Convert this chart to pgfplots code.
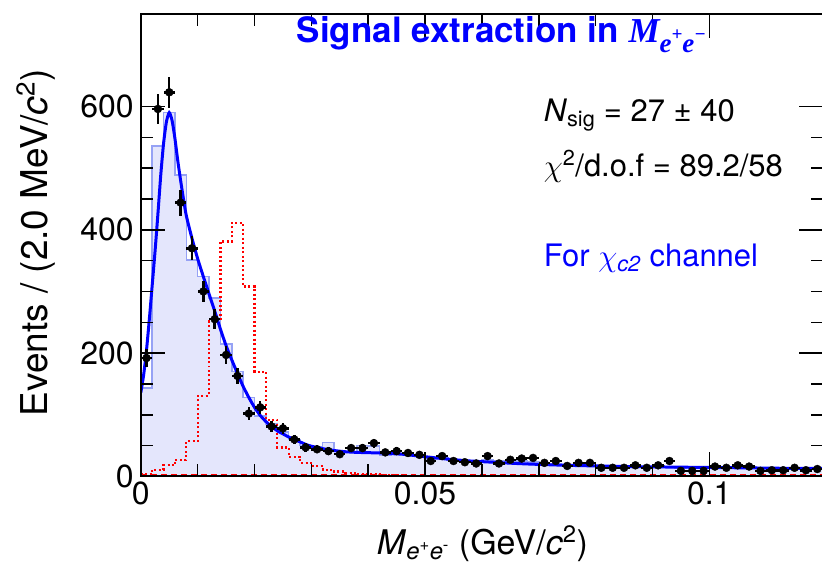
\RequirePackage{fix-cm}
\documentclass[border=0pt]{standalone}
\usepackage{pgfplots}
\pgfplotsset{compat=1.18}
\usepackage{fontspec}
\setmainfont{TeX Gyre Heros}
\newfontfamily\titleserif{Liberation Serif}
\definecolor{histfill}{RGB}{228,230,252}
\definecolor{histline}{RGB}{150,162,245}
\begin{document}
\begin{tikzpicture}
\begin{axis}[
  at={(0pt,0pt)}, anchor=south west,
  scale only axis, width=683pt, height=463pt,
  xmin=0, xmax=0.12, ymin=0, ymax=750,
  axis line style={line width=2pt},
  xtick={0,0.05,0.1}, xticklabels={0,0.05,0.1},
  ytick={0,200,400,600}, yticklabels={0,200,400,600},
  minor x tick num=4, minor y tick num=3,
  major tick length=24pt, minor tick length=12pt,
  every tick/.style={black, line width=1.5pt},
  tick label style={font=\fontsize{32}{38}\selectfont},
  xticklabel style={inner sep=2pt, yshift=-3pt},
  yticklabel style={inner sep=2pt, xshift=-5pt},
  scaled x ticks=false, scaled y ticks=false,
  axis on top,
]
% MC histogram (filled)
\addplot[draw=histline, line width=1.5pt, fill=histfill, const plot mark left] coordinates {
(0,143) (0.002,536) (0.004,590) (0.006,489) (0.008,351) (0.010,324) (0.012,289) (0.014,215) (0.016,170) (0.018,128)
(0.020,98) (0.022,85) (0.024,72) (0.026,60) (0.028,50) (0.030,48) (0.032,55) (0.034,42) (0.036,40) (0.038,50)
(0.040,49) (0.042,34) (0.044,36) (0.046,38) (0.048,33) (0.050,28) (0.052,31) (0.054,27) (0.056,26) (0.058,24)
(0.060,27) (0.062,26) (0.064,24) (0.066,25) (0.068,23) (0.070,19) (0.072,21) (0.074,18) (0.076,19) (0.078,17)
(0.080,18) (0.082,16) (0.084,17) (0.086,15) (0.088,16) (0.090,17) (0.092,15) (0.094,14) (0.096,15) (0.098,14)
(0.100,16) (0.102,14) (0.104,13) (0.106,15) (0.108,13) (0.110,14) (0.112,13) (0.114,14) (0.116,13) (0.118,14) (0.120,14)
} \closedcycle;
% signal shape (red dotted)
\addplot[red, line width=2.2pt, dash pattern=on 2pt off 2.5pt, const plot mark left] coordinates {
(0,3) (0.002,10) (0.004,18) (0.006,27) (0.008,57) (0.010,131) (0.012,252) (0.014,381) (0.016,411) (0.018,308)
(0.020,170) (0.022,92) (0.024,47) (0.026,32) (0.028,22) (0.030,17) (0.032,11) (0.034,8) (0.036,6) (0.038,4)
(0.040,3) (0.042,2) (0.044,2) (0.046,1) (0.120,1)
};
% background near zero (red dashed)
\addplot[red, line width=3pt, dash pattern=on 6pt off 4pt] coordinates {(0,1.5) (0.12,1.5)};
% fit curve
\addplot[blue, line width=3pt, smooth, tension=0.4] coordinates {
(0,136) (0.0005,165) (0.001,205) (0.0015,255) (0.002,310) (0.0025,365) (0.003,425) (0.0035,488) (0.004,540) (0.0045,575)
(0.005,590) (0.0055,577) (0.006,548) (0.0065,512) (0.007,480) (0.0075,450) (0.008,423) (0.009,386) (0.010,353) (0.011,324)
(0.012,296) (0.013,268) (0.014,239) (0.015,212) (0.016,189) (0.017,167) (0.018,146) (0.019,128) (0.020,112) (0.021,99)
(0.022,89) (0.023,81) (0.024,74) (0.025,69) (0.026,64) (0.027,60) (0.028,56) (0.029,52) (0.030,49) (0.032,45)
(0.034,42) (0.036,40) (0.038,39) (0.040,38.5) (0.042,38) (0.044,37) (0.046,36) (0.048,34) (0.050,32) (0.054,28)
(0.058,25) (0.062,23) (0.066,21) (0.070,19.5) (0.075,18) (0.080,17) (0.085,16) (0.090,15.5) (0.095,15) (0.100,14.5)
(0.105,14) (0.110,13.5) (0.115,13) (0.120,13)
};
% data
\addplot[black, only marks, mark=*, mark size=4pt,
  error bars/.cd, x dir=both, x explicit, y dir=both, y explicit,
  error bar style={line width=2.5pt, black}, error mark=none]
  table[x=x, y=y, x error=ex, y error=ey] {
x y ex ey
0.001 192 0.001 13.9
0.003 596 0.001 24.4
0.005 623 0.001 25.0
0.007 444 0.001 21.1
0.009 370 0.001 19.2
0.011 300 0.001 17.3
0.013 255 0.001 16.0
0.015 197 0.001 14.0
0.017 163 0.001 12.8
0.019 102 0.001 10.1
0.021 112 0.001 10.6
0.023 81 0.001 9.0
0.025 78 0.001 8.8
0.027 60 0.001 7.7
0.029 47 0.001 6.9
0.031 44 0.001 6.6
0.033 41 0.001 6.4
0.035 36 0.001 6.0
0.037 46 0.001 6.8
0.039 46 0.001 6.8
0.041 54 0.001 7.3
0.043 39 0.001 6.2
0.045 41 0.001 6.4
0.047 38 0.001 6.2
0.049 35 0.001 5.9
0.051 25 0.001 5.0
0.053 33 0.001 5.7
0.055 25 0.001 5.0
0.057 23 0.001 4.8
0.059 21 0.001 4.6
0.061 33 0.001 5.7
0.063 21 0.001 4.6
0.065 27 0.001 5.2
0.067 29 0.001 5.4
0.069 30 0.001 5.5
0.071 22 0.001 4.7
0.073 25 0.001 5.0
0.075 17 0.001 4.1
0.077 22 0.001 4.7
0.079 22 0.001 4.7
0.081 14 0.001 3.7
0.083 14 0.001 3.7
0.085 14 0.001 3.7
0.087 18 0.001 4.2
0.089 14 0.001 3.7
0.091 18 0.001 4.2
0.093 25 0.001 5.0
0.095 9 0.001 3.0
0.097 9 0.001 3.0
0.099 9 0.001 3.0
0.101 16 0.001 4.0
0.103 14 0.001 3.7
0.105 18 0.001 4.2
0.107 16 0.001 4.0
0.109 9 0.001 3.0
0.111 10 0.001 3.2
0.113 10 0.001 3.2
0.115 14 0.001 3.7
0.117 10 0.001 3.2
0.119 12 0.001 3.5
};
\end{axis}
% title and annotations
\node[anchor=base west, text=blue, font=\fontsize{35}{42}\selectfont\bfseries, inner sep=0pt] at (156pt,434pt)
  {Signal extraction in {\titleserif\bfseries\itshape M\raisebox{-0.28em}{\fontsize{27}{30}\selectfont e\raisebox{0.45em}{\fontsize{19}{22}\selectfont +}e\raisebox{0.45em}{\fontsize{19}{22}\selectfont −}}}};
\node[anchor=base west, font=\fontsize{31}{37}\selectfont] at (400pt,355pt)
  {\textit{N}\textsubscript{sig} = 27 ± 40};
\node[anchor=base west, font=\fontsize{31}{37}\selectfont] at (400pt,300pt)
  {$\chi$\textsuperscript{2}/d.o.f = 89.2/58};
\node[anchor=base west, text=blue, font=\fontsize{31}{37}\selectfont] at (400pt,210pt)
  {For $\chi$\textsubscript{\textit{c2}} channel};
% axis labels
\node[anchor=base, font=\fontsize{34}{40}\selectfont] at (342pt,-78pt)
  {\textit{M}\textsubscript{\textit{e}\textsuperscript{+}\textit{e}\textsuperscript{-}} (GeV/\textit{c}\textsuperscript{2})};
\node[anchor=base, rotate=90, font=\fontsize{37}{44}\selectfont] at (-93pt,234pt)
  {Events / (2.0 MeV/\textit{c}\textsuperscript{2})};
\pgfresetboundingbox
\path[use as bounding box] (-141pt,-91pt) rectangle (682pt,477pt);
\end{tikzpicture}
\end{document}
